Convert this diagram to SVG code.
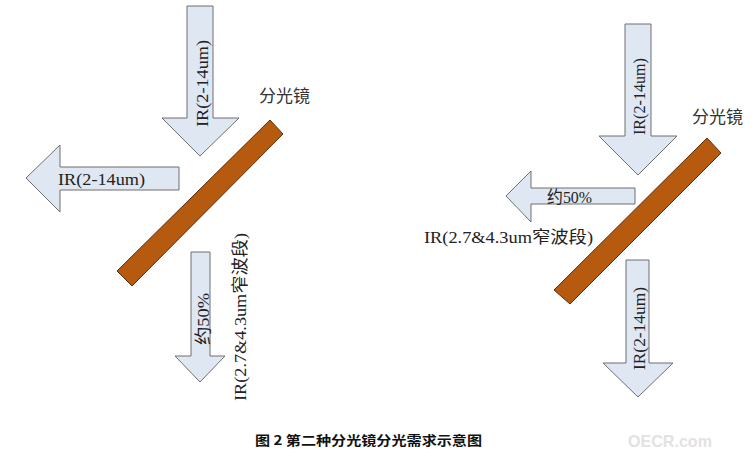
<svg xmlns="http://www.w3.org/2000/svg" width="756" height="457" viewBox="0 0 756 457">
<style>
.arr{fill:#dfe7f2;stroke:#6f6f6f;stroke-width:1}
.mir{fill:#b65a10;stroke:#5c2c06;stroke-width:1}
.t{font-family:"Liberation Serif","Noto Sans CJK SC",serif;font-size:17px;fill:#222}
.lbl{font-family:"Noto Sans CJK SC","Liberation Sans",sans-serif;font-size:17px;fill:#333}
.cap{font-family:"Noto Sans CJK SC","Liberation Sans",sans-serif;font-size:13px;font-weight:bold;fill:#111}
.wm{font-family:"Liberation Sans","Noto Sans",sans-serif;font-size:17px;font-weight:bold;fill:#e2e2e2}
</style>
<rect width="756" height="457" fill="#ffffff"/>
<g id="left-diagram">
<g id="L-in">
<polygon class="arr" points="187,6 213,6 213,118 239,118 200,156 162,118 187,118"/>
<text class="t" transform="translate(208,127) rotate(-90)" textLength="87" lengthAdjust="spacingAndGlyphs">IR(2-14um)</text>
</g>
<g id="L-refl">
<polygon class="arr" points="179,167 179,190 60,190 60,212 26,178 60,145 60,167"/>
<text class="t" x="58" y="185" textLength="87" lengthAdjust="spacingAndGlyphs">IR(2-14um)</text>
</g>
<g id="L-mirror">
<polygon class="mir" points="270,120 283,134 132,286 117,271"/>
<text class="lbl" x="259" y="102">分光镜</text>
</g>
<g id="L-trans">
<polygon class="arr" points="191,252 210,252 210,356 225,356 200,382 175,356 191,356"/>
<text class="t" transform="translate(209,345) rotate(-90)" textLength="52" lengthAdjust="spacingAndGlyphs">约50%</text>
<text class="t" transform="translate(246,401) rotate(-90)" textLength="168" lengthAdjust="spacingAndGlyphs">IR(2.7&amp;4.3um窄波段)</text>
</g>
</g>
<g id="right-diagram">
<g id="R-in">
<polygon class="arr" points="625,24 651,24 651,136 677,136 638,175 599,136 625,136"/>
<text class="t" transform="translate(645,135) rotate(-90)" textLength="77" lengthAdjust="spacingAndGlyphs">IR(2-14um)</text>
</g>
<g id="R-refl">
<polygon class="arr" points="635,188 635,204 531,204 531,222 506,196 531,171 531,188"/>
<text class="t" x="547" y="203" textLength="45" lengthAdjust="spacingAndGlyphs">约50%</text>
<text class="t" x="424" y="243" textLength="169" lengthAdjust="spacingAndGlyphs">IR(2.7&amp;4.3um窄波段)</text>
</g>
<g id="R-mirror">
<polygon class="mir" points="707,138 721,153 570,304 554,290"/>
<text class="lbl" x="692" y="123">分光镜</text>
</g>
<g id="R-trans">
<polygon class="arr" points="626,260 649,260 649,363 673,363 638,397 603,363 626,363"/>
<text class="t" transform="translate(645,370) rotate(-90)" textLength="83" lengthAdjust="spacingAndGlyphs">IR(2-14um)</text>
</g>
</g>
<g id="connectors"></g>
<text class="cap" x="255" y="445" textLength="227" lengthAdjust="spacingAndGlyphs">图 2  第二种分光镜分光需求示意图</text>
<text class="wm" x="628" y="447" textLength="84" lengthAdjust="spacingAndGlyphs">OECR.com</text>
</svg>
